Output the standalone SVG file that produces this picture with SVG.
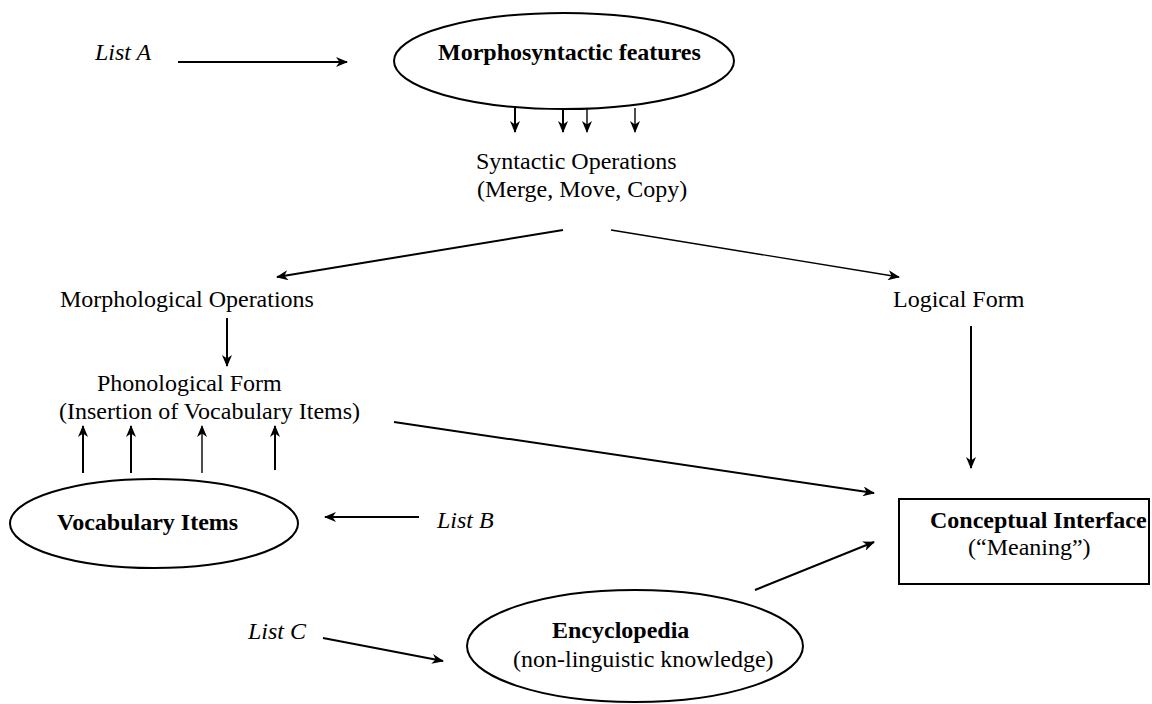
<svg xmlns="http://www.w3.org/2000/svg" width="1152" height="704" viewBox="0 0 1152 704">
<style>
  text { font-family: "Liberation Serif", "Times New Roman", serif; font-size: 24px; fill: #000; }
  .b { font-weight: bold; }
  .i { font-style: italic; }
  .shape { fill: #fff; stroke: #000; stroke-width: 2; }
  .c line { stroke: #000; stroke-width: 2; marker-end: url(#ah); }
</style>
<defs>
  <marker id="ah" viewBox="0 0 12 10" refX="11" refY="5" markerWidth="12" markerHeight="10" markerUnits="userSpaceOnUse" orient="auto">
    <path d="M0,0 L12,5 L0,10 L3.5,5 z" fill="#000"/>
  </marker>
</defs>
<rect width="1152" height="704" fill="#fff"/>

<g id="node-morphosyntactic">
  <ellipse class="shape" cx="564" cy="61" rx="170" ry="48"/>
  <text class="b" x="438" y="60">Morphosyntactic features</text>
</g>
<g id="node-listA"><text class="i" x="95" y="60">List A</text></g>
<g id="node-syntactic">
  <text x="476" y="169">Syntactic Operations</text>
  <text x="477" y="197">(Merge, Move, Copy)</text>
</g>
<g id="node-morphological"><text x="60" y="307">Morphological Operations</text></g>
<g id="node-logical"><text x="893" y="307">Logical Form</text></g>
<g id="node-phonological">
  <text x="97" y="391">Phonological Form</text>
  <text x="59" y="419">(Insertion of Vocabulary Items)</text>
</g>
<g id="node-vocabulary">
  <ellipse class="shape" cx="154" cy="523.5" rx="144" ry="44.5"/>
  <text class="b" x="57" y="530">Vocabulary Items</text>
</g>
<g id="node-listB"><text class="i" x="437" y="528">List B</text></g>
<g id="node-conceptual">
  <rect class="shape" x="899" y="499" width="250" height="85"/>
  <text class="b" x="930" y="528">Conceptual Interface</text>
  <text x="968" y="555">(“Meaning”)</text>
</g>
<g id="node-encyclopedia">
  <ellipse class="shape" cx="635" cy="646" rx="168" ry="56"/>
  <text class="b" x="552" y="638">Encyclopedia</text>
  <text x="513" y="667">(non-linguistic knowledge)</text>
</g>
<g id="node-listC"><text class="i" x="248" y="639">List C</text></g>

<g id="connectors" class="c">
  <line x1="178" y1="62" x2="347" y2="62"/>
  <line x1="515" y1="108" x2="515" y2="132"/>
  <line x1="563" y1="108" x2="563" y2="132"/>
  <line x1="587" y1="108" x2="587" y2="132" style="stroke-width:1.4"/>
  <line x1="635" y1="108" x2="635" y2="132" style="stroke-width:1.4"/>
  <line x1="563" y1="230" x2="277" y2="277"/>
  <line x1="611" y1="230" x2="899" y2="277" style="stroke-width:1.4"/>
  <line x1="227" y1="318" x2="227" y2="366"/>
  <line x1="971" y1="326" x2="971" y2="468"/>
  <line x1="83" y1="473" x2="83" y2="426"/>
  <line x1="131" y1="473" x2="131" y2="426"/>
  <line x1="202" y1="473" x2="202" y2="426" style="stroke-width:1.4"/>
  <line x1="275" y1="470" x2="275" y2="426"/>
  <line x1="394" y1="422" x2="874" y2="493"/>
  <line x1="419" y1="517" x2="325" y2="517"/>
  <line x1="755" y1="590" x2="874" y2="542"/>
  <line x1="323" y1="638" x2="443" y2="661"/>
</g>
</svg>
